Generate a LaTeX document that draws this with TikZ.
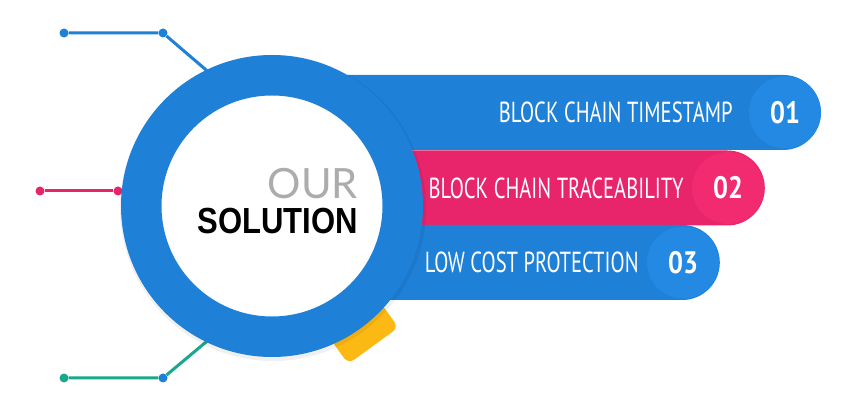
\documentclass[tikz,border=0pt]{standalone}
\usepackage{fontspec}
\newfontfamily\barfont[FakeStretch=0.71]{PT Sans}
\newfontfamily\numfont[FakeStretch=0.85]{PT Sans}
\newfontfamily\ourfont{Lato}
\newfontfamily\solfont{Liberation Sans}
\usetikzlibrary{positioning,shapes.misc}
\definecolor{ringblue}{HTML}{1E80D7}
\definecolor{numblue}{HTML}{2389E2}
\definecolor{barpink}{HTML}{E8246A}
\definecolor{numpink}{HTML}{F22A6F}
\definecolor{leadgreen}{HTML}{19A88B}
\definecolor{handleyel}{HTML}{FDB913}
\tikzset{bar/.style={rounded rectangle,rounded rectangle west arc=none,minimum height=75pt,inner sep=0,anchor=east},
  numc/.style={circle,minimum size=72pt,inner sep=0,text=white,font=\numfont\bfseries\fontsize{31}{31}\selectfont},
  bartxt/.style={text=white,inner sep=0,font=\barfont\fontsize{29}{30}\selectfont},
  dot/.style={circle,minimum size=9pt,inner sep=0},
  lead/.style={line width=3pt}}

\begin{document}
\begin{tikzpicture}[x=1pt,y=1pt,line join=round]
\useasboundingbox (0,0) rectangle (859,417);
% --- leads on the left, they run in under the ring
\node[dot,fill=ringblue] (d1) at (64,384) {}; \node[dot,fill=ringblue] (d2) at (163,384) {}; \coordinate (e1) at (212,342);
\draw[lead,ringblue] (d1) -- (d2) -- (e1);
\node[dot,fill=barpink] (d3) at (40,226) {}; \node[dot,fill=barpink] (d4) at (118,226) {}; \coordinate (e2) at (140,226);
\draw[lead,barpink] (d3) -- (d4) -- (e2);
\node[dot,fill=leadgreen] (d5) at (64,39) {}; \node[dot,fill=ringblue] (d6) at (163,39) {}; \coordinate (e3) at (212,80);
\draw[lead,leadgreen] (d5) -- (d6) -- (e3);
% --- handle of the lens
\node[fill=handleyel,rounded corners=7pt,minimum width=66pt,minimum height=62pt,rotate=-54] (handle) at (354,98) {};
% --- the three bars
\node[bar,fill=ringblue,minimum width=500pt] (bar1) at (821,304.5) {};
\node[numc,fill=numblue] (n1) at ([xshift=-36pt]bar1.east) {01};
\node[bartxt,left=16pt of n1] (t1) {BLOCK CHAIN TIMESTAMP};
\node[bar,fill=barpink,minimum width=450pt] (bar2) at (765,229) {};
\node[numc,fill=numpink] (n2) at ([xshift=-37pt]bar2.east) {02};
\node[bartxt,left=8pt of n2] (t2) {BLOCK CHAIN TRACEABILITY};
\node[bar,fill=ringblue,minimum width=410pt] (bar3) at (720,154.5) {};
\node[numc,fill=numblue] (n3) at ([xshift=-37pt]bar3.east) {03};
\node[bartxt,left=8pt of n3] (t3) {LOW COST PROTECTION};
% --- ring
\coordinate (ctr) at (272,211);
\fill[black,opacity=0.06] ([shift={(1,-2)}]ctr) circle (153pt);
\node[circle,draw=ringblue,line width=40.5pt,fill=white,minimum size=261.5pt,inner sep=0] (ring) at (ctr) {};
\node[inner sep=0,anchor=east,font=\solfont\bfseries\fontsize{36.3}{36}\selectfont] (sol) at (358,196) {\scalebox{0.855}[1]{SOLUTION}};
\node[inner sep=0,above=9pt of sol.north east,anchor=south east,text=gray!65,font=\ourfont\fontsize{41.7}{42}\selectfont] (our) {OUR};
\end{tikzpicture}
\end{document}
